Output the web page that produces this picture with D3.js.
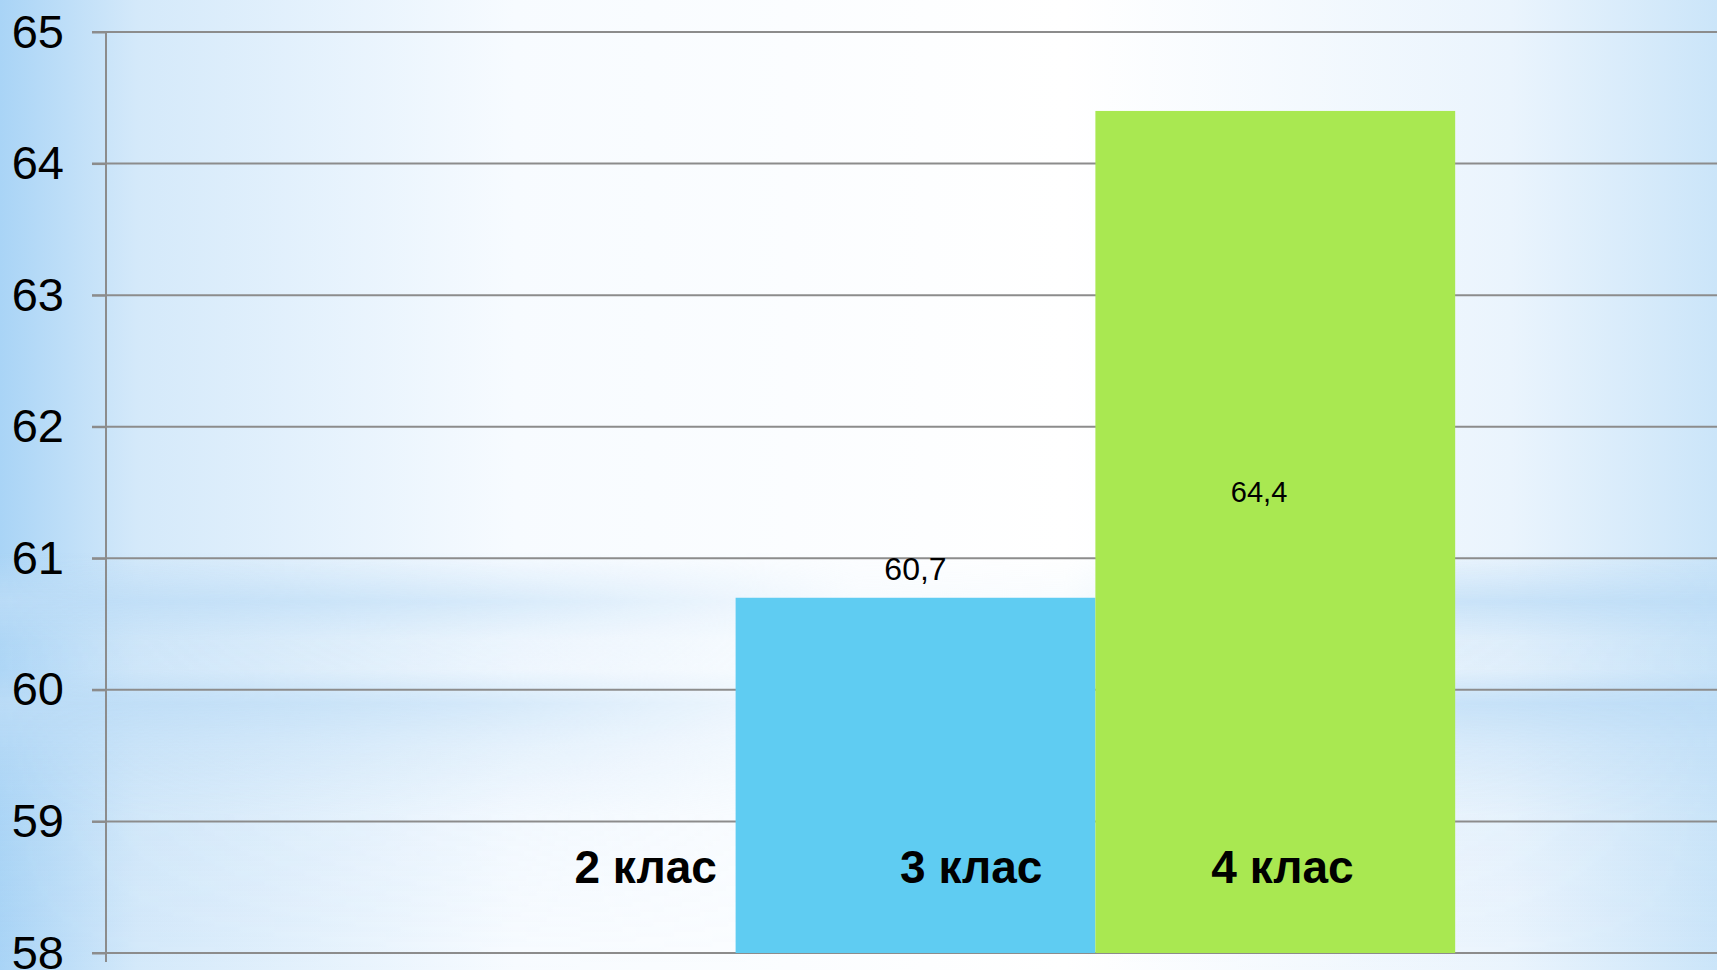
<!DOCTYPE html>
<html>
<head>
<meta charset="utf-8">
<script src="https://cdn.jsdelivr.net/npm/d3@7"></script>
<style>
  html, body { margin: 0; padding: 0; overflow: hidden; }
  svg { display: block; }
</style>
</head>
<body>
<svg id="chart"></svg>
<script>
// data
const categories = ['Клас'];
const seriesNames = ['2 клас', '3 клас', '4 клас'];
const seriesValues = [null, 60.7, 64.4];
const valueLabels = ['', '60,7', '64,4'];
const yTicks = [58, 59, 60, 61, 62, 63, 64, 65];
const seriesColors = ['#ffffff', '#5fccf2', '#a9e851'];

const W = 1717, H = 970;
const margin = { top: 32, right: -8, bottom: 17, left: 106 };

// label placement relative to each series band (fraction of band width)
const nameShift = [0.75, 0.655, 0.52];

const svg = d3.select('#chart').attr('width', W).attr('height', H);

// background, slide-like gradients
const defs = svg.append('defs');
const hg = defs.append('linearGradient').attr('id', 'bgH');
hg.append('stop').attr('offset', '0%').attr('stop-color', '#a9d4f6');
hg.append('stop').attr('offset', '8%').attr('stop-color', '#d4e9fa');
hg.append('stop').attr('offset', '30%').attr('stop-color', '#f7fbff');
hg.append('stop').attr('offset', '62%').attr('stop-color', '#ffffff');
hg.append('stop').attr('offset', '88%').attr('stop-color', '#eaf4fd');
hg.append('stop').attr('offset', '100%').attr('stop-color', '#cbe5f9');

const vg = defs.append('linearGradient').attr('id', 'bgBand')
  .attr('x1', 0).attr('y1', 0).attr('x2', 0).attr('y2', 1);
[[0, 0], [0.57, 0], [0.62, 0.85], [0.66, 0.3], [0.69, 0.25], [0.725, 0.9], [0.77, 0.5], [0.84, 0.12], [1, 0]]
  .forEach(([o, a]) => vg.append('stop').attr('offset', o).attr('stop-color', '#bcdcf6').attr('stop-opacity', a));

const mg = defs.append('linearGradient').attr('id', 'bandMaskGrad');
[[0, 1], [0.3, 0.6], [0.5, 0.08], [0.62, 0.12], [0.8, 0.8], [1, 1]]
  .forEach(([o, a]) => mg.append('stop').attr('offset', o).attr('stop-color', '#fff').attr('stop-opacity', a));
defs.append('mask').attr('id', 'bandMask')
  .append('rect').attr('width', W).attr('height', H).attr('fill', 'url(#bandMaskGrad)');

svg.append('rect').attr('width', W).attr('height', H).attr('fill', 'url(#bgH)');
svg.append('rect').attr('width', W).attr('height', H)
  .attr('fill', 'url(#bgBand)').attr('mask', 'url(#bandMask)');

// scales
const y = d3.scaleLinear()
  .domain([d3.min(yTicks), d3.max(yTicks)])
  .range([H - margin.bottom, margin.top]);

const x0 = d3.scaleBand()
  .domain(categories)
  .range([margin.left, W - margin.right])
  .paddingInner(0)
  .paddingOuter(0.25);

const x1 = d3.scaleBand()
  .domain(seriesNames)
  .range([0, x0.bandwidth()]);

// gridlines
svg.append('g')
  .selectAll('line')
  .data(yTicks)
  .join('line')
  .attr('x1', margin.left - 14)
  .attr('x2', W)
  .attr('y1', d => y(d))
  .attr('y2', d => y(d))
  .attr('stroke', '#8c8c8c')
  .attr('stroke-width', 2);

// y axis
const yAxis = d3.axisLeft(y)
  .tickValues(yTicks)
  .tickSize(14)
  .tickPadding(28)
  .tickFormat(d3.format('d'));

const ya = svg.append('g')
  .attr('transform', `translate(${margin.left},0)`)
  .call(yAxis);
ya.select('.domain').remove();
ya.selectAll('.tick line').attr('stroke', '#8c8c8c').attr('stroke-width', 2);
ya.selectAll('.tick text')
  .attr('fill', '#000')
  .style('font-family', '"Liberation Sans", Arial, sans-serif')
  .style('font-size', '47px');

svg.append('line')
  .attr('x1', margin.left).attr('x2', margin.left)
  .attr('y1', y(65)).attr('y2', H - 8)
  .attr('stroke', '#8c8c8c').attr('stroke-width', 2);

// bars
const rows = seriesNames.map((name, i) => ({ name, value: seriesValues[i], label: valueLabels[i], i }));
const g = svg.append('g').attr('transform', `translate(${x0(categories[0])},0)`);

g.selectAll('rect')
  .data(rows.filter(d => d.value != null))
  .join('rect')
  .attr('x', d => x1(d.name))
  .attr('width', x1.bandwidth())
  .attr('y', d => y(d.value))
  .attr('height', d => y(d3.min(yTicks)) - y(d.value))
  .attr('fill', d => seriesColors[d.i]);

// value labels
g.selectAll('text.val')
  .data(rows.filter(d => d.value != null))
  .join('text')
  .attr('class', 'val')
  .attr('x', d => x1(d.name) + x1.bandwidth() * (d.i === 1 ? 0.5 : 0.455))
  .attr('y', d => d.i === 1 ? y(d.value) - 18 : y(d.value) + 391)
  .attr('text-anchor', 'middle')
  .attr('fill', '#000')
  .style('font-family', '"Liberation Sans", Arial, sans-serif')
  .style('font-size', d => d.i === 1 ? '32px' : '29px')
  .text(d => d.label);

// series names
g.selectAll('text.name')
  .data(rows)
  .join('text')
  .attr('class', 'name')
  .attr('x', d => x1(d.name) + x1.bandwidth() * nameShift[d.i])
  .attr('y', 883)
  .attr('text-anchor', 'middle')
  .attr('fill', '#000')
  .style('font-family', '"Liberation Sans", Arial, sans-serif')
  .style('font-weight', 'bold')
  .style('font-size', '46px')
  .text(d => d.name);
</script>
</body>
</html>
